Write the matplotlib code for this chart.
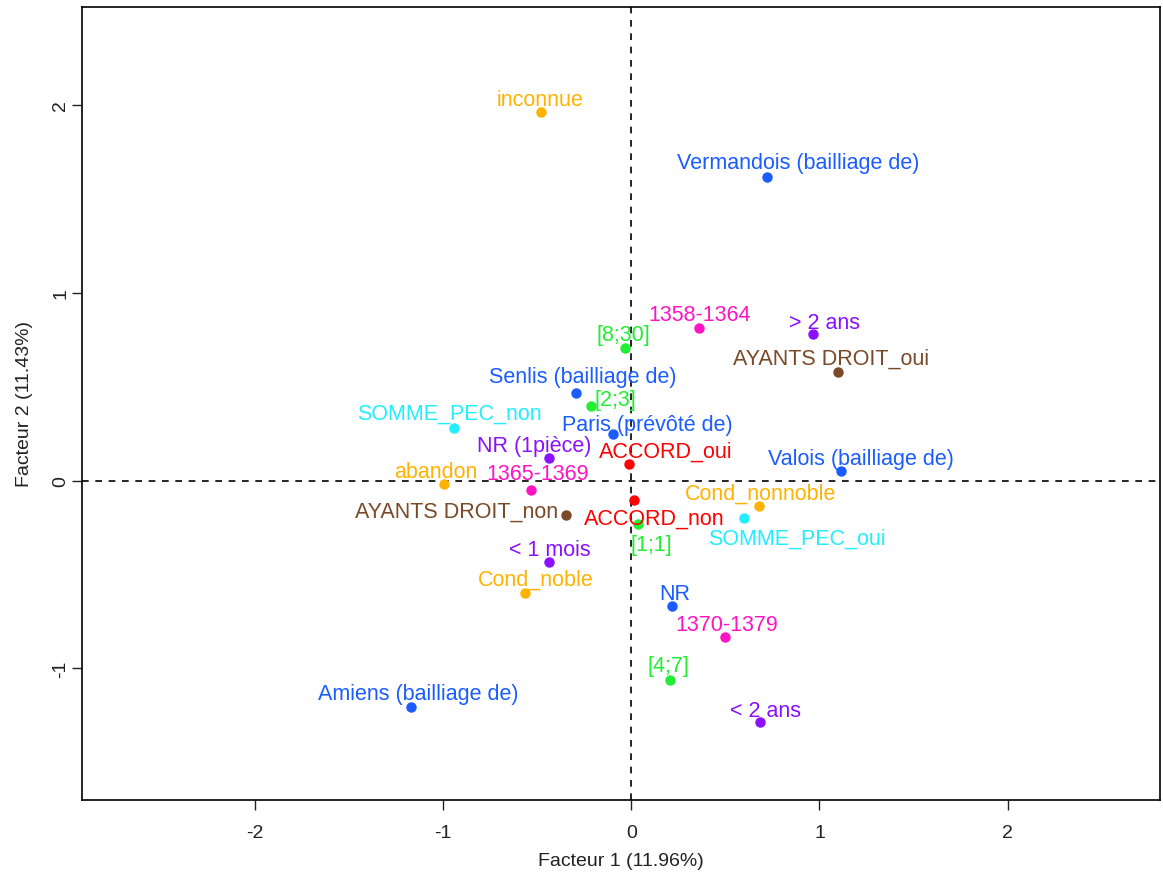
import matplotlib.pyplot as plt
import numpy as np

plt.rcParams['font.family'] = ['Liberation Sans', 'DejaVu Sans']

# modalites (ACM), coordonnees sur les facteurs 1 et 2
labels = ['inconnue', 'Vermandois (bailliage de)', '1358-1364', '> 2 ans', '[8;30]',
          'AYANTS DROIT_oui', 'Senlis (bailliage de)', '[2;3]', 'SOMME_PEC_non',
          'Paris (prévôté de)', 'NR (1pièce)', 'ACCORD_oui', 'Valois (bailliage de)',
          'abandon', '1365-1369', 'ACCORD_non', 'Cond_nonnoble', 'AYANTS DROIT_non',
          '[1;1]', 'SOMME_PEC_oui', '< 1 mois', 'Cond_noble', 'NR', '1370-1379',
          '[4;7]', '< 2 ans', 'Amiens (bailliage de)']
fact1 = [-0.479, 0.723, 0.362, 0.968, -0.032, 1.101, -0.293, -0.213, -0.941,
         -0.096, -0.436, -0.011, 1.112, -0.995, -0.532, 0.016, 0.681, -0.346,
         0.037, 0.601, -0.436, -0.564, 0.218, 0.500, 0.207, 0.686, -1.170]
fact2 = [1.963, 1.617, 0.809, 0.777, 0.707, 0.580, 0.468, 0.394, 0.282,
         0.250, 0.122, 0.090, 0.053, -0.016, -0.053, -0.101, -0.133, -0.186,
         -0.229, -0.197, -0.436, -0.601, -0.670, -0.835, -1.059, -1.287, -1.207]
groups = ['cond', 'lieu', 'date', 'duree', 'pieces', 'ayants', 'lieu', 'pieces', 'somme',
          'lieu', 'duree', 'accord', 'lieu', 'cond', 'date', 'accord', 'cond', 'ayants',
          'pieces', 'somme', 'duree', 'cond', 'lieu', 'date', 'pieces', 'duree', 'lieu']

colors = {'cond': '#FFB300', 'lieu': '#1A5CFF', 'date': '#FF14C4', 'duree': '#8A10FF',
          'pieces': '#22EE33', 'ayants': '#7A4A28', 'somme': '#22EEFF', 'accord': '#FF0000'}

# decalage des etiquettes en pixels (dx, dy, alignement)
offsets = [(-1, 15, 'center'), (31, 17, 'center'), (0, 17, 'center'), (11, 15, 'center'),
           (-2, 16, 'center'), (-7, 16, 'center'), (7, 19, 'center'), (24, 10, 'center'),
           (-5, 17, 'center'), (34, 12, 'center'), (-15, 15, 'center'), (37, 15, 'center'),
           (20, 15, 'center'), (-8, 15, 'center'), (6, 20, 'center'), (20, -16, 'center'),
           (1, 15, 'center'), (-8, 7, 'right'), (13, -18, 'center'), (52, -18, 'center'),
           (1, 16, 'center'), (11, 17, 'center'), (2, 16, 'center'), (1, 16, 'center'),
           (-2, 17, 'center'), (5, 15, 'center'), (7, 17, 'center')]

fig = plt.figure(figsize=(11.63, 8.79), dpi=100)
ax = fig.add_axes([0.0705, 0.0887, 0.9269, 0.9023])

ax.axhline(0, color='black', linestyle=(0, (4, 4)), linewidth=1.2, zorder=1)
ax.axvline(0, color='black', linestyle=(0, (4, 4)), linewidth=1.2, zorder=1)

for lab, x, y, g, (dx, dy, ha) in zip(labels, fact1, fact2, groups, offsets):
    c = colors[g]
    ax.plot(x, y, 'o', color=c, markersize=6.5, zorder=3)
    ax.annotate(lab, (x, y), xytext=(dx * 0.72, (dy - 3) * 0.72), textcoords='offset points',
                ha=ha, va='center', color=c, fontsize=15.5, zorder=4)

ax.set_xlim(-2.92, 2.81)
ax.set_ylim(-1.70, 2.52)
ax.set_xticks([-2, -1, 0, 1, 2])
ax.set_yticks([-1, 0, 1, 2])
ax.set_xticklabels(['-2', '-1', '0', '1', '2'])
ax.set_yticklabels(['-1', '0', '1', '2'], rotation=90, va='center')
ax.tick_params(length=7, width=1, labelsize=14, color='#222222', labelcolor='#222222')
ax.tick_params(axis='x', pad=10)
ax.tick_params(axis='y', pad=2)
for s in ax.spines.values():
    s.set_linewidth(1.2)

ax.set_xlabel('Facteur 1 (11.96%)', fontsize=14, color='#222222', labelpad=8)
ax.set_ylabel('Facteur 2 (11.43%)', fontsize=14, color='#222222', labelpad=14)

fig.savefig('out.png', dpi=100)
